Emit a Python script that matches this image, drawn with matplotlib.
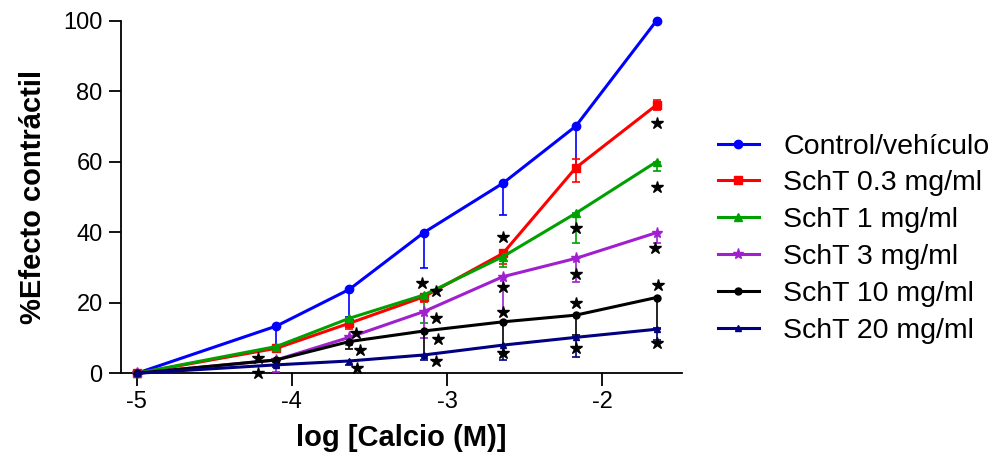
import matplotlib
matplotlib.use("Agg")
import matplotlib.pyplot as plt
import numpy as np

plt.rcParams['font.family'] = ['Liberation Sans', 'DejaVu Sans']
plt.rcParams['axes.unicode_minus'] = False

log_ca = [-5.0, -4.10, -3.63, -3.15, -2.64, -2.17, -1.65]

series_names = ["Control/vehículo", "SchT 0.3 mg/ml", "SchT 1 mg/ml",
                "SchT 3 mg/ml", "SchT 10 mg/ml", "SchT 20 mg/ml"]
control = [0, 13.4, 23.8, 39.9, 53.9, 70.1, 100.0]
scht_03 = [0, 7.1, 14.2, 21.7, 34.0, 58.3, 76.1]
scht_1 = [0, 7.6, 15.6, 22.2, 33.1, 45.4, 60.0]
scht_3 = [0, 3.8, 10.2, 17.5, 27.4, 32.6, 39.9]
scht_10 = [0, 3.8, 9.0, 12.0, 14.6, 16.5, 21.5]
scht_20 = [0, 2.4, 3.5, 5.2, 8.0, 10.2, 12.5]

# lower / upper error (SEM)
err_lo = [
    [0, 5.8, 7.8, 10.1, 9.0, 12.0, 0],
    [0, 1.0, 1.5, 1.5, 3.0, 4.0, 1.5],
    [0, 1.0, 2.0, 8.0, 3.0, 8.4, 2.5],
    [0, 3.3, 2.2, 7.6, 10.0, 6.6, 3.0],
    [0, 0.5, 2.0, 7.0, 9.0, 5.5, 8.7],
    [0, 0.5, 1.0, 1.5, 4.2, 5.5, 3.0],
]
err_hi = [
    [0, 0, 0, 0, 0, 0, 0],
    [0, 0, 0, 0, 0, 2.5, 1.5],
    [0, 0, 0, 0, 0, 0, 0],
    [0, 0, 0, 0, 0, 0, 0],
    [0, 0, 0, 0, 0, 0, 0],
    [0, 0, 0, 0, 0, 0, 0],
]

# significance asterisks (x, y)
star_x = [-4.22, -4.22, -3.59, -3.56, -3.58, -3.16, -3.07, -3.07, -3.06, -3.07,
          -2.64, -2.64, -2.64, -2.64, -2.17, -2.17, -2.17, -2.17,
          -1.65, -1.65, -1.66, -1.64, -1.65]
star_y = [4.3, 0.2, 11.3, 6.6, 1.4, 25.7, 23.4, 15.6, 9.6, 3.6,
          38.6, 24.6, 17.5, 5.9, 41.3, 28.2, 20.0, 7.1,
          71.1, 52.7, 35.4, 25.0, 8.7]

colors = ["#0000ff", "#ff0000", "#00a000", "#a020d0", "#000000", "#000080"]
markers = ["o", "s", "^", "*", "o", "^"]
msizes = [6, 6, 6, 8, 5, 5]
data = [control, scht_03, scht_1, scht_3, scht_10, scht_20]

fig = plt.figure(figsize=(10.02, 4.61), dpi=100)
ax = fig.add_axes([0.1205, 0.1902, 0.5598, 0.7649])

handles = []
for name, y, c, m, ms, lo, hi in zip(series_names, data, colors, markers, msizes, err_lo, err_hi):
    cont = ax.errorbar(log_ca, y, yerr=[lo, hi], color=c, ecolor=c, elinewidth=1.2,
                       capsize=3, capthick=1.2, lw=2.2, marker=m, ms=ms,
                       label=name, clip_on=False, zorder=3)
    handles.append(cont[0])

ax.plot(star_x, star_y, linestyle='none', marker='*', color='black',
        ms=9, clip_on=False, zorder=4)

ax.set_xlim(-5.103, -1.488)
ax.set_ylim(0, 100)
ax.set_xticks([-5, -4, -3, -2])
ax.set_yticks([0, 20, 40, 60, 80, 100])
ax.spines['top'].set_visible(False)
ax.spines['right'].set_visible(False)
ax.spines['left'].set_linewidth(1.3)
ax.spines['bottom'].set_linewidth(1.3)
ax.tick_params(direction='out', length=9, width=1.3, labelsize=17, pad=4)

ax.set_xlabel("log [Calcio (M)]", fontsize=21, fontweight='bold', labelpad=8)
ax.set_ylabel("%Efecto contráctil", fontsize=21, fontweight='bold', labelpad=12)

leg = fig.legend(handles, series_names, loc='upper left', bbox_to_anchor=(0.705, 0.735),
                 frameon=False, fontsize=20.5, handlelength=1.45, handletextpad=0.85,
                 labelspacing=0.38, borderaxespad=0)

fig.savefig("out.png", dpi=100)
